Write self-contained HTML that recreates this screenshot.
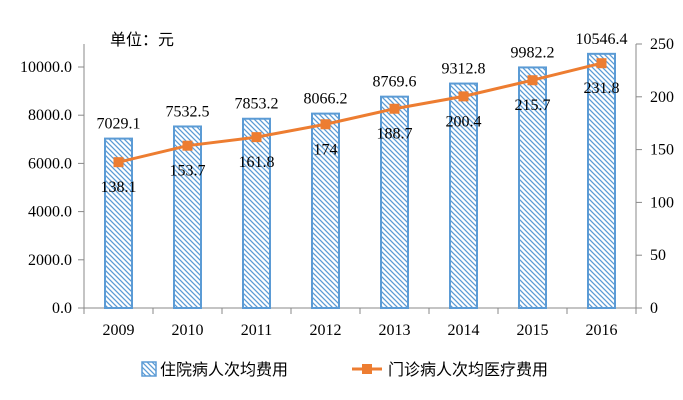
<!DOCTYPE html>
<html><head><meta charset="utf-8"><style>
body{margin:0;background:#fff;}
svg{display:block;}
</style></head><body>
<svg id="c" width="683" height="400" viewBox="0 0 683 400">
<defs>
<pattern id="hatch" width="5" height="5" patternUnits="userSpaceOnUse">
<rect width="5" height="5" fill="#fff"/>
<path d="M-1,-1 L6,6 M-1,4 L1,6 M4,-1 L6,1" stroke="#5b9bd5" stroke-width="1.3"/>
</pattern>
</defs>
<text x="110" y="45" font-size="16" font-family="Liberation Sans, Noto Sans CJK SC, sans-serif">单位：元</text>
<g id="g"></g>
</svg>
<script>
const categories=["2009","2010","2011","2012","2013","2014","2015","2016"];
const inpatientCost=[7029.1,7532.5,7853.2,8066.2,8769.6,9312.8,9982.2,10546.4];
const outpatientCost=[138.1,153.7,161.8,174,188.7,200.4,215.7,231.8];
const leftTicks=["0.0","2000.0","4000.0","6000.0","8000.0","10000.0"];
const rightTicks=["0","50","100","150","200","250"];
const NS="http://www.w3.org/2000/svg";
const SERIF="Liberation Serif, Times New Roman, serif";
const g=document.getElementById('g');
const x0=84,x1=636,y0=308;
const step=(x1-x0)/categories.length;
const yL=v=>y0-v*(308-67)/10000;
const yR=v=>y0-v*(308-44)/250;
const xC=i=>x0+step*(i+0.5);
function mk(t,a,p){const e=document.createElementNS(NS,t);for(const k in a)e.setAttribute(k,a[k]);if(t==='text'&&!a['font-family'])e.setAttribute('font-family',SERIF);(p||g).appendChild(e);return e;}
let e=mk('line',{x1:x0,y1:y0,x2:x1,y2:y0,stroke:'#888'});


e=mk('line',{x1:x0,y1:44,x2:x0,y2:y0,stroke:'#888'});


e=mk('line',{x1:x1,y1:44,x2:x1,y2:y0,stroke:'#888'});


for(let i=0;i<=categories.length;i++){mk('line',{x1:x0+step*i,y1:y0,x2:x0+step*i,y2:y0+6,stroke:'#888'});}
leftTicks.forEach(t=>{const y=yL(parseFloat(t));mk('line',{x1:x0-6,y1:y,x2:x0,y2:y,stroke:'#888'});
 const tx=mk('text',{x:x0-12,y:y+5,'text-anchor':'end','font-size':16});tx.textContent=t;
 
 });
rightTicks.forEach(t=>{const y=yR(parseFloat(t));mk('line',{x1:x1,y1:y,x2:x1+6,y2:y,stroke:'#888'});
 const tx=mk('text',{x:x1+14,y:y+5,'font-size':16});tx.textContent=t;
 
 });
categories.forEach((c,i)=>{const tx=mk('text',{x:xC(i),y:335,'text-anchor':'middle','font-size':16});tx.textContent=c;
 
 });
inpatientCost.forEach((v,i)=>{const r=mk('rect',{x:xC(i)-13.5,y:yL(v),width:27,height:y0-yL(v),fill:'url(#hatch)',stroke:'#5b9bd5','stroke-width':2});
 
 
 const tx=mk('text',{x:xC(i),y:yL(v)-10,'text-anchor':'middle','font-size':16});tx.textContent=v.toFixed(1);
 
 });
const pl=mk('polyline',{points:outpatientCost.map((v,i)=>xC(i)+','+yR(v)).join(' '),fill:'none',stroke:'#ed7d31','stroke-width':3});


outpatientCost.forEach((v,i)=>{const r=mk('rect',{x:xC(i)-5,y:yR(v)-5,width:10,height:10,fill:'#ed7d31'});
 
 
 const tx=mk('text',{x:xC(i),y:yR(v)+30,'text-anchor':'middle','font-size':16});tx.textContent=String(v);
 
 });
const lg=mk('g',{});


let r=mk('rect',{x:142,y:362,width:14,height:14,fill:'url(#hatch)',stroke:'#5b9bd5','stroke-width':1.5},lg);


let t=mk('text',{x:160,y:375,'font-size':16,'font-family':"Liberation Sans, Noto Sans CJK SC, sans-serif"},lg);t.textContent='住院病人次均费用';


let l=mk('line',{x1:352,y1:369,x2:382,y2:369,stroke:'#ed7d31','stroke-width':3},lg);


mk('rect',{x:362,y:364,width:10,height:10,fill:'#ed7d31'},lg);
t=mk('text',{x:388,y:375,'font-size':16,'font-family':"Liberation Sans, Noto Sans CJK SC, sans-serif"},lg);t.textContent='门诊病人次均医疗费用';


</script>
</body></html>
